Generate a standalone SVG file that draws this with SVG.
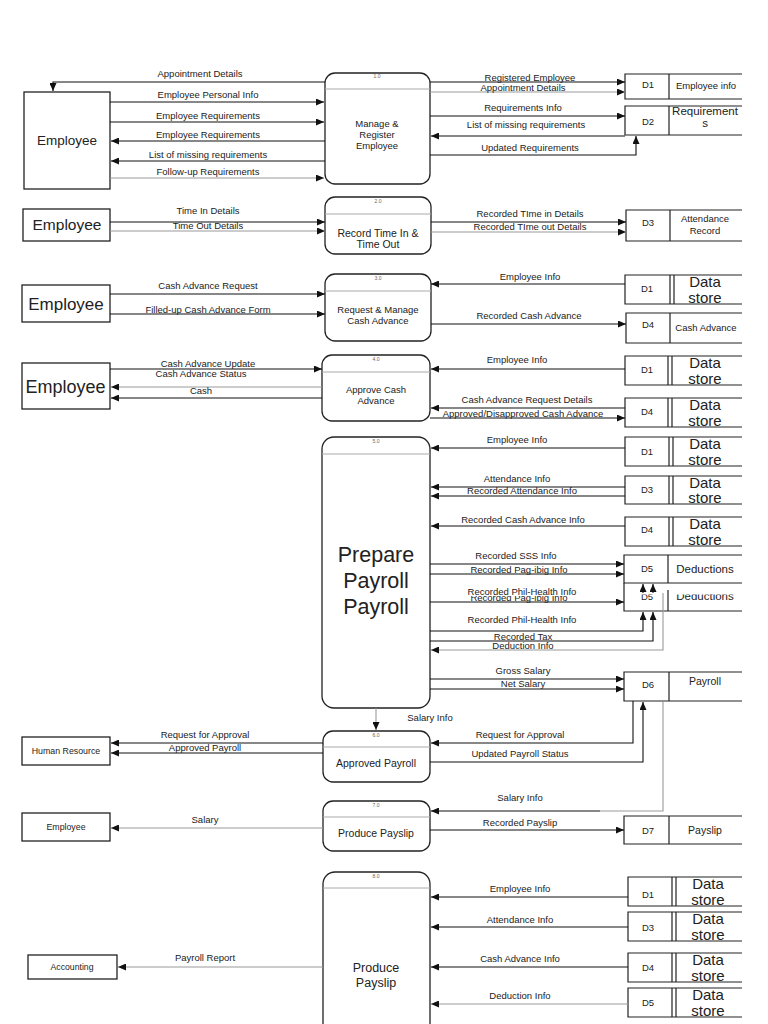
<svg xmlns="http://www.w3.org/2000/svg" width="768" height="1024" viewBox="0 0 768 1024">
<style>
text{font-family:"Liberation Sans",Arial,sans-serif;fill:#222;text-anchor:middle}
.l{font-size:9.5px}
.pn{font-size:5px;fill:#666}
.p{fill:#fff;stroke:#222;stroke-width:1.3}
.h{stroke:#aaa;stroke-width:1}
.e{fill:#fff;stroke:#222;stroke-width:1.3}
.ds{fill:none;stroke:#222;stroke-width:1.2}
.f{fill:none;stroke:#111;stroke-width:1.1}
.g{fill:none;stroke:#999;stroke-width:1.1}
.dt{font-size:15px}
.dl{font-size:9.5px}
</style>
<defs>
<marker id="a" markerUnits="userSpaceOnUse" markerWidth="8" markerHeight="7" refX="8" refY="3.5" orient="auto"><path d="M0,0 L8,3.5 L0,7 z" fill="#111"/></marker>
<clipPath id="c1"><rect x="600" y="594.5" width="160" height="30"/></clipPath>
<clipPath id="c2"><rect x="440" y="596" width="160" height="10"/></clipPath>
</defs>

<!-- Entities -->
<g id="ent-employee-1"><rect class="e" x="24" y="92" width="86" height="97"/><text x="67" y="145" font-size="13.5">Employee</text></g>
<g id="ent-employee-2"><rect class="e" x="23" y="209" width="87" height="32" stroke-width="1.6"/><text x="67" y="230" font-size="15.5">Employee</text></g>
<g id="ent-employee-3"><rect class="e" x="22" y="285" width="88" height="37" stroke-width="1.6"/><text x="66" y="310" font-size="17">Employee</text></g>
<g id="ent-employee-4"><rect class="e" x="22" y="363" width="88" height="46"/><text x="65.5" y="393" font-size="18">Employee</text></g>
<g id="ent-hr"><rect class="e" x="22" y="737" width="88" height="28"/><text x="66" y="754" font-size="8.8">Human Resource</text></g>
<g id="ent-employee-7"><rect class="e" x="22" y="813" width="88" height="28"/><text x="66" y="830" font-size="8.8">Employee</text></g>
<g id="ent-accounting"><rect class="e" x="28" y="955" width="89" height="24"/><text x="72" y="970" font-size="8.7">Accounting</text></g>

<!-- Processes -->
<g id="proc-1"><rect class="p" x="325" y="73" width="105" height="111" rx="10"/><line class="h" x1="325" y1="89" x2="430" y2="89"/><text class="pn" x="377" y="78">1.0</text><text class="l" x="377" y="127">Manage &amp;</text><text class="l" x="377" y="138">Register</text><text class="l" x="377" y="149">Employee</text></g>
<g id="proc-2"><rect class="p" x="325" y="197" width="106" height="57" rx="10"/><line class="h" x1="325" y1="214" x2="431" y2="214"/><text class="pn" x="378" y="203">2.0</text><text x="378" y="237" font-size="10.5">Record Time In &amp;</text><text x="378" y="248" font-size="10.5">Time Out</text></g>
<g id="proc-3"><rect class="p" x="325" y="274" width="106" height="67" rx="10"/><line class="h" x1="325" y1="291" x2="431" y2="291"/><text class="pn" x="378" y="280">3.0</text><text class="l" x="378" y="313">Request &amp; Manage</text><text class="l" x="378" y="324">Cash Advance</text></g>
<g id="proc-4"><rect class="p" x="322" y="355" width="108" height="66" rx="10"/><line class="h" x1="322" y1="372" x2="430" y2="372"/><text class="pn" x="376" y="361">4.0</text><text class="l" x="376" y="393">Approve Cash</text><text class="l" x="376" y="404">Advance</text></g>
<g id="proc-5"><rect class="p" x="322" y="437" width="108" height="271" rx="12"/><line class="h" x1="322" y1="454" x2="430" y2="454"/><text class="pn" x="376" y="443">5.0</text><text x="376" y="562" font-size="21.5">Prepare</text><text x="376" y="588" font-size="21.5">Payroll</text><text x="376" y="614" font-size="21.5">Payroll</text></g>
<g id="proc-6"><rect class="p" x="323" y="731" width="107" height="51" rx="10"/><line class="h" x1="323" y1="747" x2="430" y2="747"/><text class="pn" x="376" y="737">6.0</text><text x="376" y="767" font-size="10.5">Approved Payroll</text></g>
<g id="proc-7"><rect class="p" x="323" y="801" width="107" height="50" rx="10"/><line class="h" x1="323" y1="817" x2="430" y2="817"/><text class="pn" x="376" y="807">7.0</text><text x="376" y="837" font-size="10.5">Produce Payslip</text></g>
<g id="proc-8"><rect class="p" x="323" y="872" width="107" height="200" rx="12"/><line class="h" x1="323" y1="888" x2="430" y2="888"/><text class="pn" x="376" y="878">8.0</text><text x="376" y="972" font-size="12.5">Produce</text><text x="376" y="987" font-size="12.5">Payslip</text></g>

<!-- Data stores -->
<g id="ds-d1-a"><path class="ds" d="M742,74 H625 V99 H742 M669,74 V99"/><text class="dl" x="648" y="88">D1</text><text class="l" x="706" y="89">Employee info</text></g>
<g id="ds-d2"><path class="ds" d="M742,106 H625 V135 H742 M669,106 V135"/><text class="dl" x="648" y="125">D2</text><text x="705" y="115" font-size="11.5">Requirement</text><text x="705" y="127" font-size="11.5">s</text></g>
<g id="ds-d3-a"><path class="ds" d="M742,210 H626 V241 H742 M670,210 V241"/><text class="dl" x="648" y="226">D3</text><text class="l" x="705" y="222">Attendance</text><text class="l" x="705" y="234">Record</text></g>
<g id="ds-d1-b"><path class="ds" d="M742,275 H625 V304 H742 M670,275 V304 M674,275 V304"/><text class="dl" x="647" y="292">D1</text><text class="dt" x="705" y="287">Data</text><text class="dt" x="705" y="303">store</text></g>
<g id="ds-d4-a"><path class="ds" d="M742,313 H626 V343 H742 M670,313 V343"/><text class="dl" x="648" y="328">D4</text><text class="l" x="706" y="331">Cash Advance</text></g>
<g id="ds-d1-c"><path class="ds" d="M742,356 H625 V385 H742 M668,356 V385 M672,356 V385"/><text class="dl" x="647" y="373">D1</text><text class="dt" x="705" y="368">Data</text><text class="dt" x="705" y="384">store</text></g>
<g id="ds-d4-b"><path class="ds" d="M742,398 H625 V427 H742 M668,398 V427 M672,398 V427"/><text class="dl" x="647" y="415">D4</text><text class="dt" x="705" y="410">Data</text><text class="dt" x="705" y="426">store</text></g>
<g id="ds-d1-d"><path class="ds" d="M742,437 H625 V466 H742 M669,437 V466 M673,437 V466"/><text class="dl" x="647" y="455">D1</text><text class="dt" x="705" y="449">Data</text><text class="dt" x="705" y="465">store</text></g>
<g id="ds-d3-b"><path class="ds" d="M742,476 H625 V504 H742 M669,476 V504 M673,476 V504"/><text class="dl" x="647" y="493">D3</text><text class="dt" x="705" y="488">Data</text><text class="dt" x="705" y="503">store</text></g>
<g id="ds-d4-c"><path class="ds" d="M742,517 H625 V546 H742 M669,517 V546 M673,517 V546"/><text class="dl" x="647" y="533">D4</text><text class="dt" x="705" y="529">Data</text><text class="dt" x="705" y="545">store</text></g>
<g id="ds-d5-a"><path class="ds" d="M742,555 H624 V583 H742 M668,555 V583"/><text class="dl" x="647" y="572">D5</text><text x="705" y="573" font-size="11.5">Deductions</text></g>
<g id="ds-d5-b"><path class="ds" d="M624,583 V611 H742 M668,590 V611"/><g clip-path="url(#c1)"><text class="dl" x="647" y="600">D5</text><text x="705" y="600" font-size="11.5">Deductions</text></g></g>
<g id="ds-d6"><path class="ds" d="M742,672 H624 V701 H742 M669,672 V701"/><text class="dl" x="648" y="688">D6</text><text x="705" y="685" font-size="10.5">Payroll</text></g>
<g id="ds-d7"><path class="ds" d="M742,816 H624 V844 H742 M669,816 V844"/><text class="dl" x="648" y="834">D7</text><text x="705" y="834" font-size="10.5">Payslip</text></g>
<g id="ds-d1-e"><path class="ds" d="M742,877 H628 V906 H742 M672,877 V906 M676,877 V906"/><text class="dl" x="648" y="898">D1</text><text class="dt" x="708" y="889">Data</text><text class="dt" x="708" y="905">store</text></g>
<g id="ds-d3-e"><path class="ds" d="M742,912 H628 V941 H742 M672,912 V941 M676,912 V941"/><text class="dl" x="648" y="931">D3</text><text class="dt" x="708" y="924">Data</text><text class="dt" x="708" y="940">store</text></g>
<g id="ds-d4-e"><path class="ds" d="M742,953 H628 V982 H742 M672,953 V982 M676,953 V982"/><text class="dl" x="648" y="971">D4</text><text class="dt" x="708" y="965">Data</text><text class="dt" x="708" y="981">store</text></g>
<g id="ds-d5-e"><path class="ds" d="M742,988 H628 V1017 H742 M672,988 V1017 M676,988 V1017"/><text class="dl" x="648" y="1006">D5</text><text class="dt" x="708" y="1000">Data</text><text class="dt" x="708" y="1016">store</text></g>

<!-- Connectors -->
<g id="connectors">
<path class="f" d="M325,82 H53 V91" marker-end="url(#a)"/>
<path class="f" d="M110,102 H324" marker-end="url(#a)"/>
<path class="f" d="M110,122 H324" marker-end="url(#a)"/>
<path class="f" d="M325,141 H111" marker-end="url(#a)"/>
<path class="f" d="M325,161 H111" marker-end="url(#a)"/>
<path class="g" d="M110,178 H324" marker-end="url(#a)"/>
<path class="f" d="M430,82 H625" marker-end="url(#a)"/>
<path class="g" d="M430,92 H625" marker-end="url(#a)"/>
<path class="f" d="M430,116 H625" marker-end="url(#a)"/>
<path class="f" d="M625,136 H431" marker-end="url(#a)"/>
<path class="f" d="M430,155 H636 V136" marker-end="url(#a)"/>
<path class="f" d="M110,222 H325" marker-end="url(#a)"/>
<path class="g" d="M110,231 H325" marker-end="url(#a)"/>
<path class="f" d="M431,222 H626" marker-end="url(#a)"/>
<path class="g" d="M431,232 H626" marker-end="url(#a)"/>
<path class="f" d="M110,294 H325" marker-end="url(#a)"/>
<path class="f" d="M110,314 H325" marker-end="url(#a)"/>
<path class="f" d="M625,284 H431" marker-end="url(#a)"/>
<path class="f" d="M431,324 H626" marker-end="url(#a)"/>
<path class="f" d="M110,369 H322" marker-end="url(#a)"/>
<path class="g" d="M322,387 H111" marker-end="url(#a)"/>
<path class="f" d="M322,398 H111" marker-end="url(#a)"/>
<path class="f" d="M625,369 H431" marker-end="url(#a)"/>
<path class="f" d="M625,408 H431" marker-end="url(#a)"/>
<path class="f" d="M430,418 H625" marker-end="url(#a)"/>
<path class="f" d="M625,448 H431" marker-end="url(#a)"/>
<path class="f" d="M625,487 H431" marker-end="url(#a)"/>
<path class="f" d="M625,496 H431" marker-end="url(#a)"/>
<path class="f" d="M625,526 H431" marker-end="url(#a)"/>
<path class="f" d="M430,564 H624" marker-end="url(#a)"/>
<path class="f" d="M430,574 H624" marker-end="url(#a)"/>
<path class="f" d="M643,593 V584" marker-end="url(#a)"/>
<path class="f" d="M653,593 V584" marker-end="url(#a)"/>
<path class="f" d="M430,602 H624" marker-end="url(#a)"/>
<path class="f" d="M430,631 H643 V612" marker-end="url(#a)"/>
<path class="f" d="M430,641 H653 V612" marker-end="url(#a)"/>
<path class="g" d="M663,593 V650 H431" marker-end="url(#a)"/>
<path class="f" d="M430,679 H624" marker-end="url(#a)"/>
<path class="f" d="M430,689 H624" marker-end="url(#a)"/>
<path class="g" d="M376,708 V730" marker-end="url(#a)"/>
<path class="f" d="M323,743 H111" marker-end="url(#a)"/>
<path class="f" d="M323,753 H111" marker-end="url(#a)"/>
<path class="f" d="M633,701 V743 H431" marker-end="url(#a)"/>
<path class="f" d="M430,762 H643 V702" marker-end="url(#a)" stroke="#666"/>
<path class="g" d="M663,702 V811 H600"/>
<path class="f" d="M600,811 H431" marker-end="url(#a)"/>
<path class="g" d="M323,828 H111" marker-end="url(#a)"/>
<path class="f" d="M430,830 H624" marker-end="url(#a)"/>
<path class="g" d="M323,967 H118" marker-end="url(#a)"/>
<path class="f" d="M628,897 H431" marker-end="url(#a)"/>
<path class="f" d="M628,927 H431" marker-end="url(#a)"/>
<path class="f" d="M628,967 H431" marker-end="url(#a)"/>
<path class="g" d="M628,1004 H431" marker-end="url(#a)"/>
</g>

<!-- Connector labels -->
<g id="labels" class="l">
<text class="l" x="200" y="77">Appointment Details</text>
<text class="l" x="208" y="98">Employee Personal Info</text>
<text class="l" x="208" y="119">Employee Requirements</text>
<text class="l" x="208" y="138">Employee Requirements</text>
<text class="l" x="208" y="158">List of missing requirements</text>
<text class="l" x="208" y="175">Follow-up Requirements</text>
<text class="l" x="530" y="81">Registered Employee</text>
<text class="l" x="523" y="91">Appointment Details</text>
<text class="l" x="523" y="111">Requirements Info</text>
<text class="l" x="526" y="128">List of missing requirements</text>
<text class="l" x="530" y="151">Updated Requirements</text>
<text class="l" x="208" y="214">Time In Details</text>
<text class="l" x="208" y="229">Time Out Details</text>
<text class="l" x="530" y="217">Recorded TIme in Details</text>
<text class="l" x="530" y="230">Recorded TIme out Details</text>
<text class="l" x="208" y="289">Cash Advance Request</text>
<text class="l" x="208" y="313">Filled-up Cash Advance Form</text>
<text class="l" x="530" y="280">Employee Info</text>
<text class="l" x="529" y="319">Recorded Cash Advance</text>
<text class="l" x="208" y="367">Cash Advance Update</text>
<text class="l" x="201" y="377">Cash Advance Status</text>
<text class="l" x="201" y="394">Cash</text>
<text class="l" x="517" y="363">Employee Info</text>
<text class="l" x="527" y="403">Cash Advance Request Details</text>
<text class="l" x="523" y="417">Approved/Disapproved Cash Advance</text>
<text class="l" x="517" y="443">Employee Info</text>
<text class="l" x="517" y="482">Attendance Info</text>
<text class="l" x="522" y="494">Recorded Attendance Info</text>
<text class="l" x="523" y="523">Recorded Cash Advance Info</text>
<text class="l" x="516" y="559">Recorded SSS Info</text>
<text class="l" x="519" y="573">Recorded Pag-ibig Info</text>
<g clip-path="url(#c2)"><text class="l" x="519" y="601">Recorded Pag-ibig Info</text></g>
<text class="l" x="522" y="595">Recorded Phil-Health Info</text>
<text class="l" x="522" y="623">Recorded Phil-Health Info</text>
<text class="l" x="523" y="640">Recorded Tax</text>
<text class="l" x="523" y="649">Deduction Info</text>
<text class="l" x="523" y="674">Gross Salary</text>
<text class="l" x="523" y="687">Net Salary</text>
<text class="l" x="430" y="721">Salary Info</text>
<text class="l" x="205" y="738">Request for Approval</text>
<text class="l" x="205" y="751">Approved Payroll</text>
<text class="l" x="520" y="738">Request for Approval</text>
<text class="l" x="520" y="757">Updated Payroll Status</text>
<text class="l" x="520" y="801">Salary Info</text>
<text class="l" x="205" y="823">Salary</text>
<text class="l" x="520" y="826">Recorded Payslip</text>
<text class="l" x="205" y="961">Payroll Report</text>
<text class="l" x="520" y="892">Employee Info</text>
<text class="l" x="520" y="923">Attendance Info</text>
<text class="l" x="520" y="962">Cash Advance Info</text>
<text class="l" x="520" y="999">Deduction Info</text>
</g>
</svg>
